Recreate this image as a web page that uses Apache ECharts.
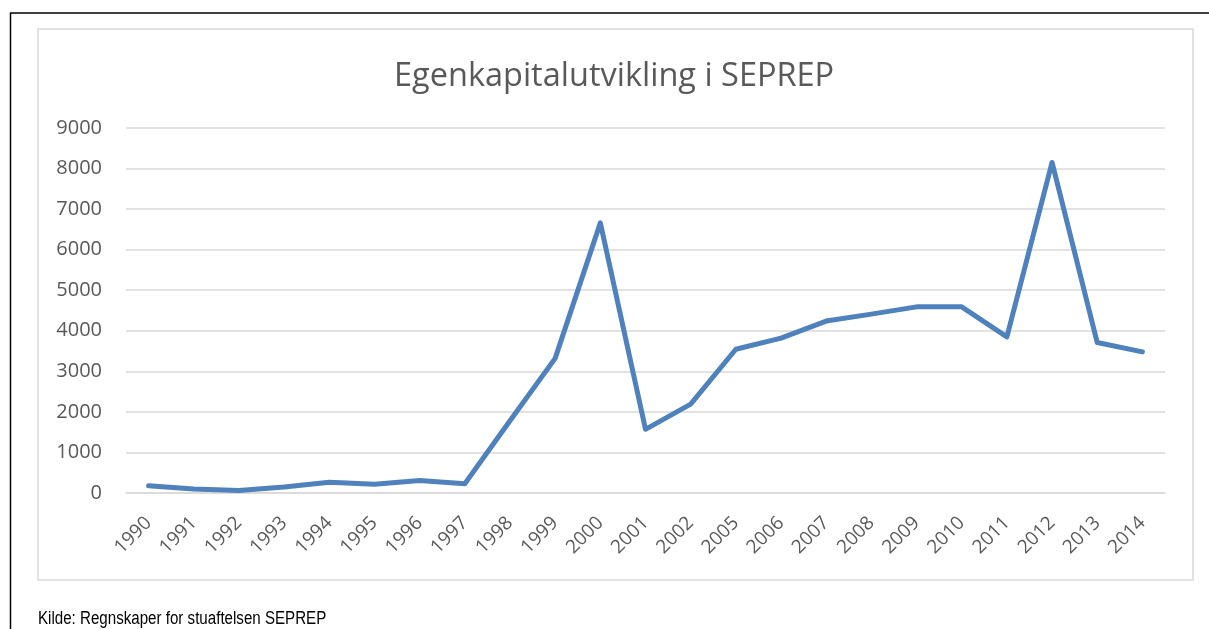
<!DOCTYPE html>
<html>
<head>
<meta charset="utf-8">
<title>Egenkapitalutvikling i SEPREP</title>
<script src="https://cdn.jsdelivr.net/npm/echarts@6/dist/echarts.min.js"></script>
<style>
  html, body { margin: 0; padding: 0; background: #fff; }
  #chart { width: 1209px; height: 629px; }
</style>
</head>
<body>
<div id="chart"></div>
<script>
// år (2003 og 2004 mangler i kilden)
var years = ['1990', '1991', '1992', '1993', '1994', '1995', '1996', '1997', '1998', '1999',
  '2000', '2001', '2002', '2005', '2006', '2007', '2008', '2009', '2010', '2011',
  '2012', '2013', '2014'];
// egenkapital, lest av figuren
var equity = [180, 100, 60, 150, 265, 215, 310, 230, 1780, 3320,
  6660, 1570, 2190, 3545, 3820, 4240, 4410, 4590, 4590, 3850,
  8150, 3710, 3480];
var yTicks = { min: 0, max: 9000, step: 1000 };

var chart = echarts.init(document.getElementById('chart'));
var textColor = '#595959';
var gridColor = '#d9d9d9';

chart.setOption({
  animation: false,
  title: {
    text: 'Egenkapitalutvikling i SEPREP',
    left: 389,
    top: 55,
    textStyle: {
      fontFamily: 'Open Sans',
      fontSize: 32.5,
      fontWeight: 'normal',
      color: textColor
    }
  },
  graphic: [
    { type: 'line', shape: { x1: 10, y1: 13, x2: 1209, y2: 13 }, style: { stroke: '#000', lineWidth: 1.5 } },
    { type: 'line', shape: { x1: 10.5, y1: 13, x2: 10.5, y2: 629 }, style: { stroke: '#000', lineWidth: 1.5 } },
    { type: 'rect', shape: { x: 38, y: 29, width: 1155, height: 551 }, style: { fill: 'none', stroke: gridColor, lineWidth: 1.5 } },
    {
      type: 'text', x: 38, y: 610, scaleX: 0.84,
      style: {
        text: 'Kilde: Regnskaper for stuaftelsen SEPREP',
        font: '18px "Liberation Sans", Arial, sans-serif',
        fill: '#000'
      }
    }
  ],
  grid: { left: 126, right: 44, top: 128, bottom: 136 },
  xAxis: {
    type: 'category',
    data: years,
    boundaryGap: true,
    axisLine: { show: true, lineStyle: { color: gridColor, width: 1.5 } },
    axisTick: { show: false },
    axisLabel: {
      rotate: 45,
      margin: 27,
      interval: 0,
      color: textColor,
      fontFamily: 'Open Sans',
      fontSize: 19
    }
  },
  yAxis: {
    type: 'value',
    min: yTicks.min,
    max: yTicks.max,
    interval: yTicks.step,
    axisLine: { show: false },
    axisTick: { show: false },
    splitLine: { lineStyle: { color: gridColor, width: 1.5 } },
    axisLabel: {
      margin: 24,
      color: textColor,
      fontFamily: 'Open Sans',
      fontSize: 20,
      formatter: function (v) { return String(v); }
    }
  },
  series: [{
    type: 'line',
    data: equity,
    showSymbol: false,
    symbol: 'none',
    lineStyle: { color: '#4f81bd', width: 5, cap: 'round', join: 'round' }
  }]
});
</script>
</body>
</html>
